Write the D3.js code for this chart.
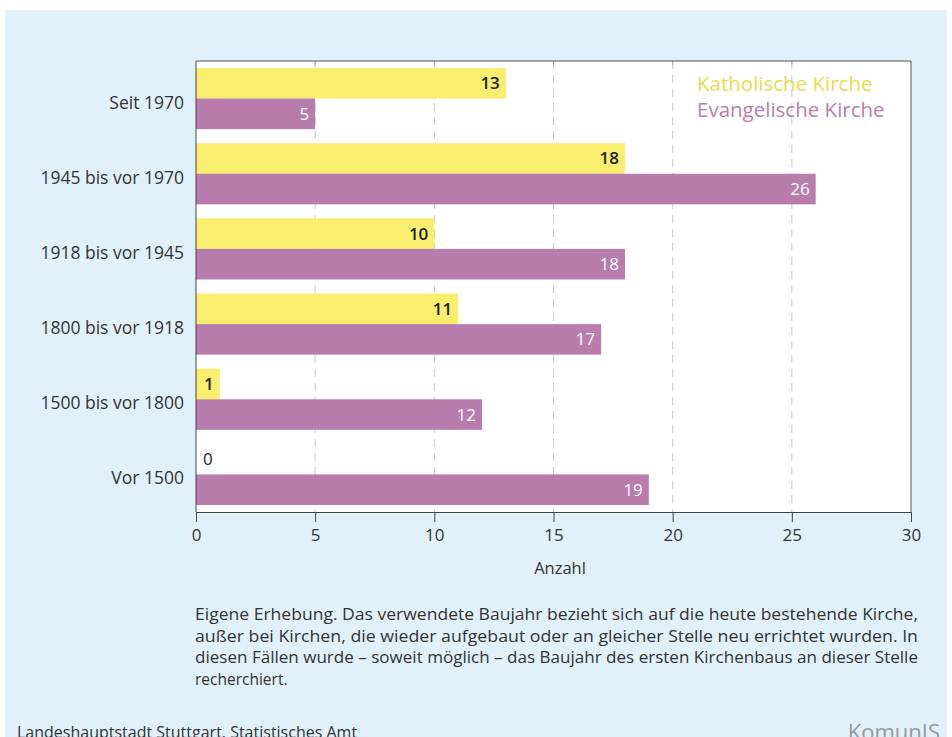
<!DOCTYPE html>
<html>
<head>
<meta charset="utf-8">
<script src="https://cdn.jsdelivr.net/npm/d3@7"></script>
<style>
  body { margin: 0; background: #fff; }
  svg { display: block; font-family: "Open Sans", sans-serif; }
</style>
</head>
<body>
<div id="chart"></div>
<script>
// Kirchen nach Baujahr
var categories = ["Seit 1970", "1945 bis vor 1970", "1918 bis vor 1945", "1800 bis vor 1918", "1500 bis vor 1800", "Vor 1500"];
var katholisch = [13, 18, 10, 11, 1, 0];
var evangelisch = [5, 26, 18, 17, 12, 19];
var xTicks = [0, 5, 10, 15, 20, 25, 30];
var seriesNames = ["Katholische Kirche", "Evangelische Kirche"];
var footnote = [
  "Eigene Erhebung. Das verwendete Baujahr bezieht sich auf die heute bestehende Kirche,",
  "außer bei Kirchen, die wieder aufgebaut oder an gleicher Stelle neu errichtet wurden. In",
  "diesen Fällen wurde – soweit möglich – das Baujahr des ersten Kirchenbaus an dieser Stelle",
  "recherchiert."
];

var W = 952, H = 737;
var yellow = "#f9ee6e", purple = "#b87dad";

var svg = d3.select("#chart").append("svg")
  .attr("width", W).attr("height", H);

// blue panel
svg.append("rect")
  .attr("x", 5).attr("y", 10).attr("width", 942).attr("height", H - 10)
  .attr("fill", "#e0f1fb");

var pLeft = 196, pRight = 911, pTop = 61, pBottom = 512;

var x = d3.scaleLinear().domain([0, 30]).range([pLeft, pRight]);
var y = d3.scaleBand().domain(categories).range([pTop, pBottom]).paddingInner(14 / 75).paddingOuter(7 / 75);

// plot background
svg.append("rect")
  .attr("x", pLeft).attr("y", pTop).attr("width", pRight - pLeft).attr("height", pBottom - pTop)
  .attr("fill", "#fff");

// dashed grid
svg.append("g").selectAll("line")
  .data(xTicks.slice(1, -1))
  .enter().append("line")
  .attr("x1", d => x(d)).attr("x2", d => x(d))
  .attr("y1", pTop).attr("y2", pBottom)
  .attr("stroke", "#c8c8c8")
  .attr("stroke-width", 1)
  .attr("stroke-dasharray", "8,6");

// little ticks on the top border
svg.append("g").selectAll("line")
  .data(xTicks.slice(1, -1))
  .enter().append("line")
  .attr("x1", d => x(d)).attr("x2", d => x(d))
  .attr("y1", pTop).attr("y2", pTop + 4)
  .attr("stroke", "#aaa");

var bh = y.bandwidth() / 2;

var rows = categories.map((c, i) => ({ cat: c, kat: katholisch[i], evg: evangelisch[i] }));

var g = svg.append("g");

// katholisch bars
g.selectAll(".kat")
  .data(rows)
  .enter().append("rect")
  .attr("class", "kat")
  .attr("x", x(0))
  .attr("y", d => y(d.cat))
  .attr("width", d => x(d.kat) - x(0))
  .attr("height", bh)
  .attr("fill", yellow);

// evangelisch bars
g.selectAll(".evg")
  .data(rows)
  .enter().append("rect")
  .attr("class", "evg")
  .attr("x", x(0))
  .attr("y", d => y(d.cat) + bh)
  .attr("width", d => x(d.evg) - x(0))
  .attr("height", bh)
  .attr("fill", purple);

// value labels
g.selectAll(".katLabel")
  .data(rows)
  .enter().append("text")
  .attr("x", d => d.kat > 0 ? x(d.kat) - 6 : x(0) + 7)
  .attr("y", d => y(d.cat) + bh / 2 + 6)
  .attr("text-anchor", d => d.kat > 0 ? "end" : "start")
  .attr("font-size", 17)
  .attr("font-weight", d => d.kat > 0 ? 600 : 400)
  .attr("fill", "#222")
  .text(d => d.kat);

g.selectAll(".evgLabel")
  .data(rows)
  .enter().append("text")
  .attr("x", d => x(d.evg) - 6)
  .attr("y", d => y(d.cat) + bh + bh / 2 + 6)
  .attr("text-anchor", "end")
  .attr("font-size", 17)
  .attr("fill", "#fff")
  .text(d => d.evg);

// frame lines
svg.append("line").attr("x1", pLeft).attr("x2", pRight).attr("y1", pTop).attr("y2", pTop).attr("stroke", "#555");
svg.append("line").attr("x1", pRight).attr("x2", pRight).attr("y1", pTop).attr("y2", pBottom).attr("stroke", "#555");
svg.append("line").attr("x1", pLeft).attr("x2", pLeft).attr("y1", pTop).attr("y2", pBottom).attr("stroke", "#444");

// x axis
var xAxis = svg.append("g")
  .attr("transform", `translate(0,${pBottom})`)
  .call(d3.axisBottom(x).tickValues(xTicks).tickSize(10).tickPadding(7));
xAxis.select(".domain").attr("stroke", "#444");
xAxis.selectAll(".tick line").attr("stroke", "#444");
xAxis.selectAll("text")
  .attr("font-size", 17)
  .attr("font-family", "Open Sans, sans-serif")
  .attr("fill", "#333");

svg.append("text")
  .attr("x", 560).attr("y", 574)
  .attr("text-anchor", "middle")
  .attr("font-size", 16.5)
  .attr("fill", "#333")
  .text("Anzahl");

// category labels
svg.append("g").selectAll("text")
  .data(categories)
  .enter().append("text")
  .attr("x", 184)
  .attr("y", d => y(d) + bh + 10)
  .attr("text-anchor", "end")
  .attr("font-size", 17.5)
  .attr("fill", "#333")
  .text(d => d);

// legend
var legendColors = ["#e8da4c", purple];
svg.append("g").selectAll("text")
  .data(seriesNames)
  .enter().append("text")
  .attr("x", 697)
  .attr("y", (d, i) => 91 + i * 26)
  .attr("font-size", 20.5)
  .attr("fill", (d, i) => legendColors[i])
  .text(d => d);

// footnote
svg.append("g").selectAll("text")
  .data(footnote)
  .enter().append("text")
  .attr("x", 195)
  .attr("y", (d, i) => 620 + i * 21.5)
  .attr("font-size", 15.5)
  .attr("fill", "#333")
  .attr("textLength", (d, i) => i < 3 ? 723 : null)
  .attr("lengthAdjust", "spacingAndGlyphs")
  .text(d => d);

// source
svg.append("text")
  .attr("x", 17).attr("y", 738)
  .attr("font-size", 16)
  .attr("fill", "#333")
  .text("Landeshauptstadt Stuttgart, Statistisches Amt");

svg.append("text")
  .attr("x", 940).attr("y", 740)
  .attr("text-anchor", "end")
  .attr("font-size", 22)
  .attr("fill", "#999")
  .text("KomunIS");
</script>
</body>
</html>
